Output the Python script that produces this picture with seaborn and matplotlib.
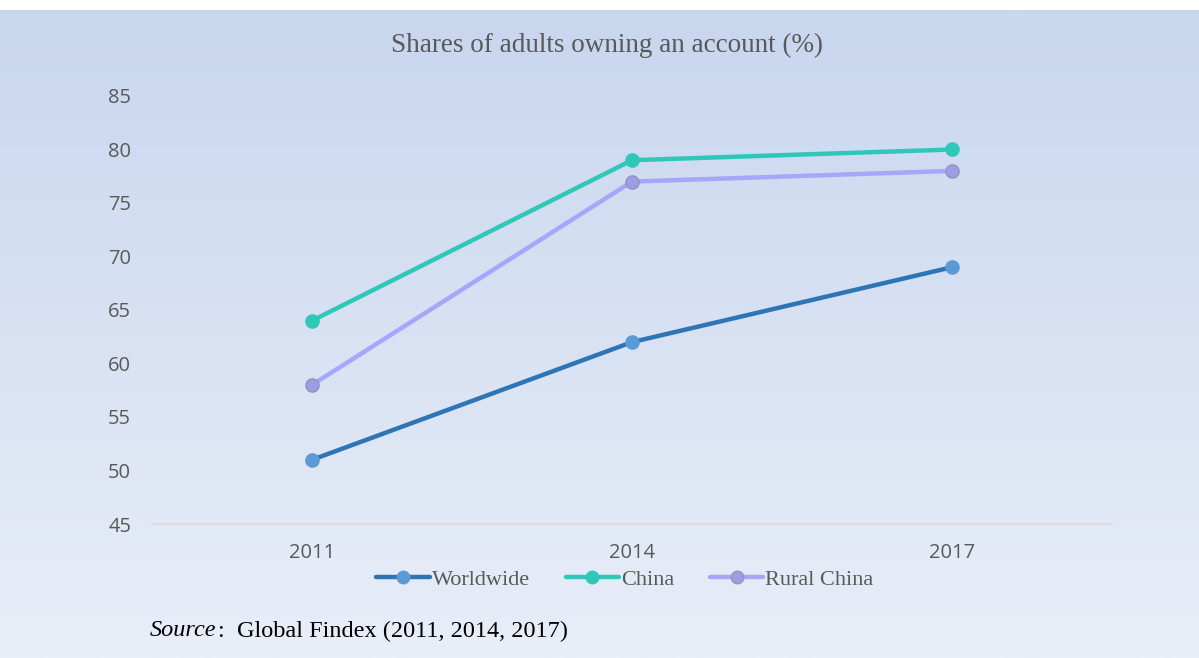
import numpy as np
import pandas as pd
import matplotlib
matplotlib.use("Agg")
import matplotlib.pyplot as plt
import seaborn as sns
from matplotlib.lines import Line2D

years = ["2011", "2014", "2017"]
worldwide = [51, 62, 69]
china = [64, 79, 80]
rural_china = [58, 77, 78]
series_names = ["Worldwide", "China", "Rural China"]
y_ticks = [45, 50, 55, 60, 65, 70, 75, 80, 85]

line_colors = {"Worldwide": "#2E75B6", "China": "#2FC8B8", "Rural China": "#A6A6FA"}
marker_colors = {"Worldwide": "#5B9BD5", "China": "#2FC8B8", "Rural China": "#9D9DE6"}
marker_edges = {"Worldwide": "#5B9BD5", "China": "#2FC8B8", "Rural China": "#9494B8"}

df = pd.DataFrame({
    "year": years * 3,
    "value": worldwide + china + rural_china,
    "series": sum([[s] * 3 for s in series_names], []),
})

sns.set_theme(style="white")
fig = plt.figure(figsize=(11.99, 6.58), dpi=100)

# background gradient
bg = fig.add_axes([0, 0, 1, 1 - 10 / 658])
top = np.array([0xC8, 0xD6, 0xEE]) / 255
bot = np.array([0xE9, 0xEE, 0xF8]) / 255
t = np.linspace(0, 1, 256)[:, None]
grad = (top[None, :] * (1 - t) + bot[None, :] * t)[:, None, :]
bg.imshow(grad, aspect="auto", extent=[0, 1, 0, 1])
bg.set_axis_off()

ax = fig.add_axes([152 / 1199, 1 - 524 / 658, (1112 - 152) / 1199, (524 - 96) / 658])
ax.patch.set_alpha(0)

for s in series_names:
    sub = df[df["series"] == s]
    sns.lineplot(data=sub, x="year", y="value", ax=ax, color=line_colors[s],
                 linewidth=3.2, marker="o", markersize=9.5,
                 markerfacecolor=marker_colors[s], markeredgecolor=marker_edges[s],
                 markeredgewidth=1.0, legend=False, sort=False)

ax.set_xlim(-0.5, 2.5)
ax.set_ylim(45, 85)
ax.set_yticks(y_ticks)
ax.set_yticklabels([str(v) for v in y_ticks])
ax.set_xlabel("")
ax.set_ylabel("")
for sp in ["top", "right", "left"]:
    ax.spines[sp].set_visible(False)
ax.spines["bottom"].set_color("#D9D9D9")
ax.spines["bottom"].set_linewidth(1.2)
ax.tick_params(axis="both", length=0, labelcolor="#595959", labelsize=14.5)
ax.tick_params(axis="y", pad=15)
ax.tick_params(axis="x", pad=14)
for lbl in ax.get_xticklabels() + ax.get_yticklabels():
    lbl.set_fontfamily("Open Sans")

fig.text(607 / 1199, 1 - 45 / 658, "Shares of adults owning an account (%)",
         ha="center", va="center", fontsize=19.5, color="#595959",
         family="Liberation Serif")

handles = [Line2D([0], [0], color=line_colors[s], linewidth=3.2, marker="o",
                  markersize=9, markerfacecolor=marker_colors[s],
                  markeredgecolor=marker_edges[s]) for s in series_names]
leg = fig.legend(handles, series_names, loc="center", ncol=3,
                 bbox_to_anchor=(625 / 1199, 1 - 580 / 658), frameon=False,
                 prop={"family": "Liberation Serif", "size": 16},
                 handlelength=2.4, handletextpad=0.1, columnspacing=1.6)
for txt in leg.get_texts():
    txt.set_color("#595959")

src = fig.text(150 / 1199, 1 - 631 / 658, "Source", style="italic", ha="left",
               va="center", fontsize=17.5, family="Liberation Serif", color="black")
fig.canvas.draw()
bb = src.get_window_extent(renderer=fig.canvas.get_renderer())
fig.text((bb.x1 + 1) / 1199, 1 - 631 / 658, ":  Global Findex (2011, 2014, 2017)",
         ha="left", va="center", fontsize=17.5, family="Liberation Serif",
         color="black")

fig.savefig("out.png", dpi=100)
